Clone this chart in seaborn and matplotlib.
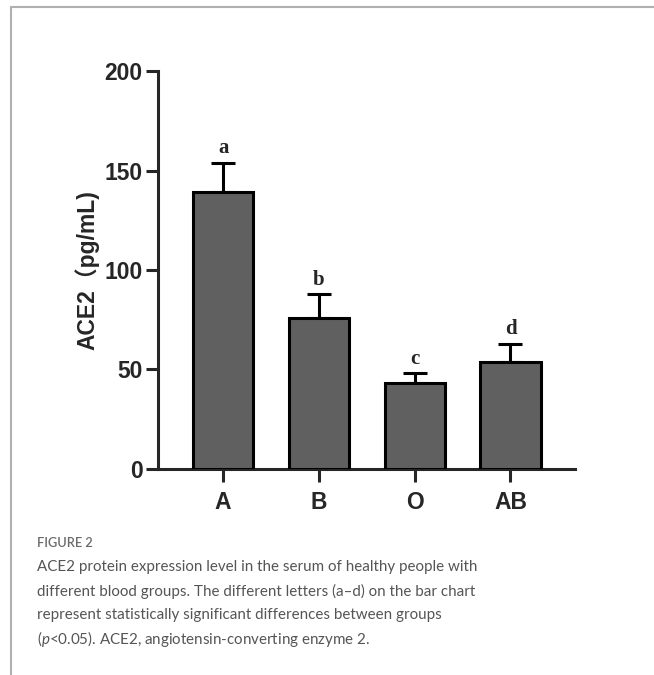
import matplotlib
matplotlib.use('Agg')
import matplotlib.pyplot as plt
import seaborn as sns
import pandas as pd

# values
groups = ["A", "B", "O", "AB"]
ace2_mean = [139, 76, 43, 54]
ace2_err = [15, 12, 5, 9]
sig_letters = ["a", "b", "c", "d"]
y_ticks = [0, 50, 100, 150, 200]

caption_title = "FIGURE 2"
caption_lines = [
    "ACE2 protein expression level in the serum of healthy people with",
    "different blood groups. The different letters (a\u2013d) on the bar chart",
    "represent statistically significant differences between groups",
    "($\\mathit{p}$<0.05). ACE2, angiotensin-converting enzyme 2.",
]

sns.set_style("ticks")
plt.rcParams['font.family'] = ['Liberation Sans', 'DejaVu Sans']
plt.rcParams['mathtext.fontset'] = 'custom'
plt.rcParams['mathtext.it'] = 'Lato:italic'

df = pd.DataFrame({"group": groups, "ace2": ace2_mean})

fig = plt.figure(figsize=(6.54, 6.75), dpi=100)
ax = fig.add_axes([0.2416, 0.3052, 0.637, 0.5896])

sns.barplot(data=df, x="group", y="ace2", ax=ax, color="#606060",
            saturation=1, width=0.63, edgecolor="black", linewidth=2.2,
            errorbar=None, zorder=3)
ax.errorbar(range(len(groups)), ace2_mean, yerr=[[0] * len(groups), ace2_err],
            fmt="none", ecolor="black", elinewidth=2.2, capsize=8.3,
            capthick=2.2, zorder=2)

# significance letters above the caps
for i, (m, e, lab) in enumerate(zip(ace2_mean, ace2_err, sig_letters)):
    ax.annotate(lab, (i, m + e), xytext=(0, 3), textcoords="offset points",
                ha="center", va="bottom", fontsize=15, fontweight="bold",
                family="Liberation Serif")

ax.set_xlim(-0.68, 3.67)
ax.set_ylim(0, 200)
ax.set_yticks(y_ticks)
ax.set_xlabel("")
ax.set_ylabel("ACE2\uff08pg/mL)", fontsize=16.5, fontweight="bold",
              family=['Liberation Sans', 'Noto Sans CJK SC'])
ax.yaxis.set_label_coords(-0.141, 0.50)
sns.despine(ax=ax)
for side in ["left", "bottom"]:
    ax.spines[side].set_linewidth(2.2)
ax.tick_params(axis="both", width=2.2, length=9, labelsize=16.5, pad=2)
for t in ax.get_xticklabels() + ax.get_yticklabels():
    t.set_fontweight("bold")
ax.tick_params(axis="x", pad=7)

# page frame lines
fig.add_artist(plt.Line2D([11 / 654, 1], [1 - 7 / 675, 1 - 7 / 675],
                          color="#b0b0b0", lw=1.5))
fig.add_artist(plt.Line2D([11 / 654, 11 / 654], [0, 1 - 7 / 675],
                          color="#b0b0b0", lw=1.5))

fig.text(37 / 654, 1 - 543 / 675, caption_title, fontsize=9.2,
         color="#6a6a6a", family="Lato", va="center", fontweight="semibold")
for k, line in enumerate(caption_lines):
    fig.text(37 / 654, 1 - (567 + 24 * k) / 675, line, fontsize=10.9,
             color="#555555", family="Lato", va="center")

fig.savefig("out.png", dpi=100)
